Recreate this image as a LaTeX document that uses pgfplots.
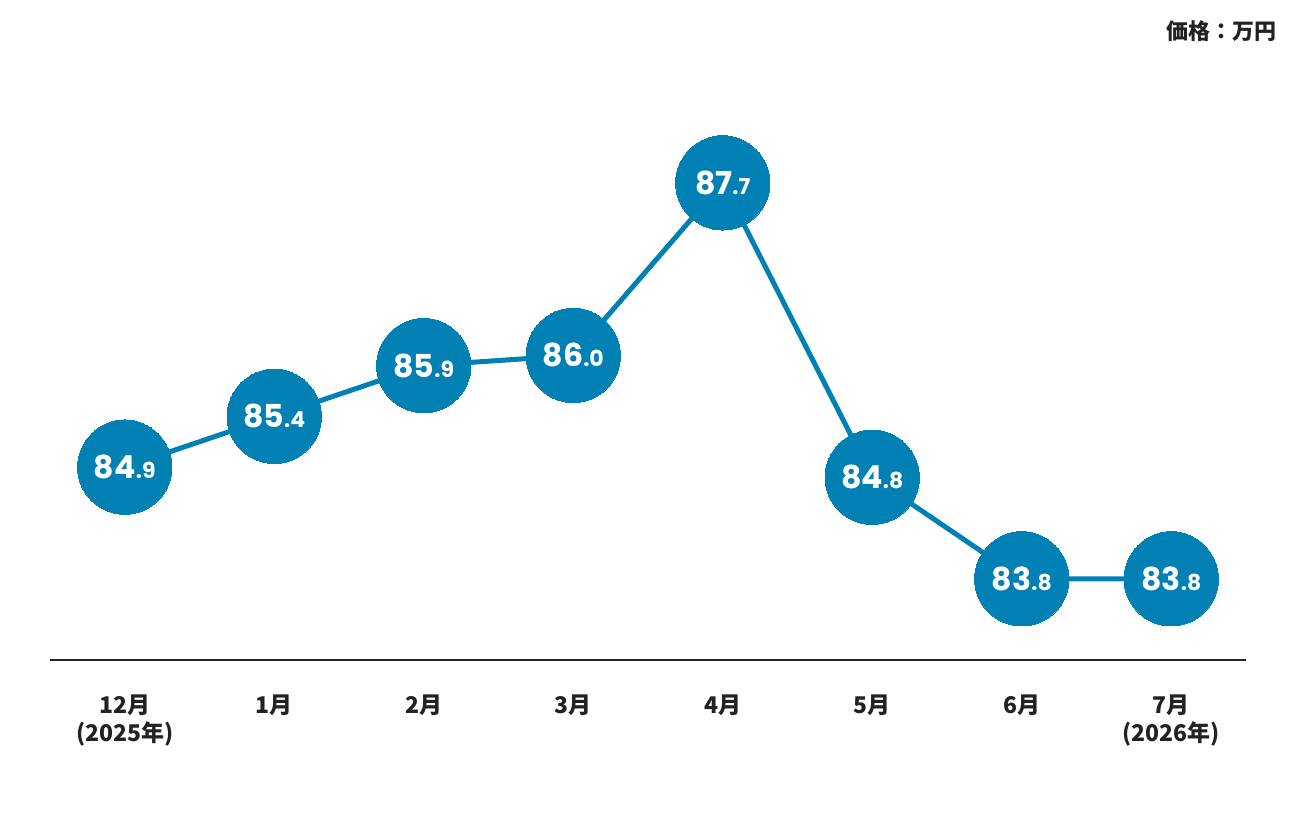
\documentclass[border=0pt]{standalone}
\usepackage{fontspec}
\usepackage{pgfplots}
\pgfplotsset{compat=1.18}
\usetikzlibrary{calc}
\newfontfamily\cjk{Noto Sans CJK JP}
\newfontfamily\numfont{Poppins}
\definecolor{cblue}{HTML}{0080B3}
\definecolor{dgray}{HTML}{222222}
\def\splitlabel#1{\expandafter\splitaux#1\relax}
\def\splitaux#1.#2\relax{#1{\fontsize{11}{11}\selectfont.#2}}
\pgfplotstableread{
x y lab
0 84.9 84.9
1 85.4 85.4
2 85.9 85.9
3 86.0 86.0
4 87.7 87.7
5 84.8 84.8
6 83.8 83.8
7 83.8 83.8
}\data
\begin{document}
\begin{tikzpicture}
\begin{axis}[
  name=ax, at={(0,0)}, anchor=south west,
  scale only axis, width=598pt, height=300pt,
  xmin=-0.5, xmax=7.5, ymin=83.0, ymax=88.91,
  axis x line=bottom, axis y line=none,
  x axis line style={-, line width=1pt, dgray},
  xtick={0,...,7}, major tick length=0pt,
  xticklabels={{12月\\(2025年)},1月,2月,3月,4月,5月,6月,{7月\\(2026年)}},
  xticklabel style={font=\cjk\bfseries\fontsize{11.5}{14}\selectfont, align=center, text=dgray, anchor=north, yshift=-14pt},
  clip=false,
]
\addplot[cblue, line width=2.5pt, mark=*, mark size=23.6pt,
  mark options={fill=cblue, draw=none, line width=0pt},
  point meta=explicit symbolic,
  nodes near coords={\splitlabel\pgfplotspointmeta},
  every node near coord/.style={anchor=center, text=white, font=\numfont\bfseries\fontsize{15.8}{17}\selectfont, inner sep=0pt},
] table[x=x,y=y,meta=lab]{\data};
\end{axis}
\node[anchor=east, text=dgray, font=\cjk\bfseries\fontsize{11}{12}\selectfont, inner sep=0pt] at ($(ax.south west)+(613.5pt,314.5pt)$) {価格：万円};
\path ($(ax.south west)+(-25pt,-78pt)$) rectangle ++(648pt,408pt);
\end{tikzpicture}
\end{document}
